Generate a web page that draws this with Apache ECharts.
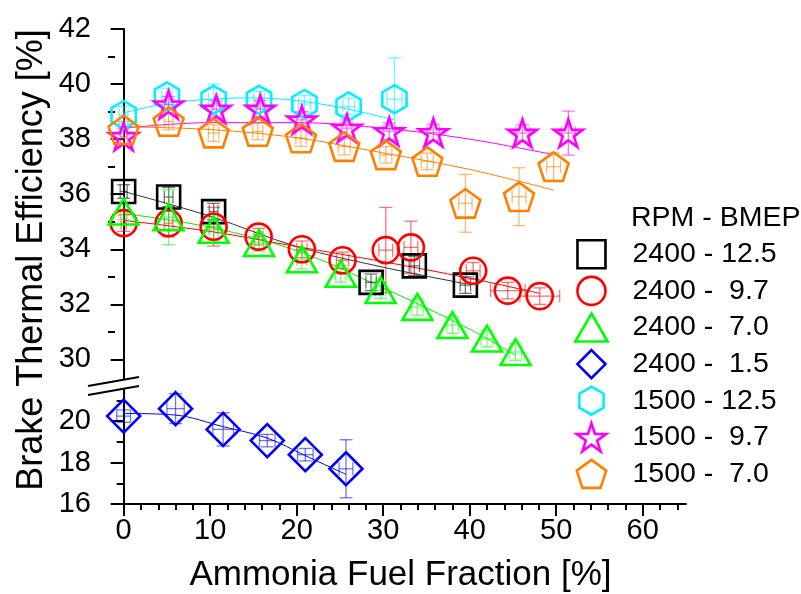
<!DOCTYPE html>
<html>
<head>
<meta charset="utf-8">
<title>Brake Thermal Efficiency</title>
<script src="https://cdn.jsdelivr.net/npm/echarts@6/dist/echarts.min.js"></script>
<style>
  html, body { margin: 0; padding: 0; background: #fff; }
  #chart { width: 801px; height: 594px; }
</style>
</head>
<body>
<div id="chart"></div>
<script>
// values
const xMajor = [0, 10, 20, 30, 40, 50, 60]
const xMinor = [2, 4, 6, 8, 12, 14, 16, 18, 22, 24, 26, 28, 32, 34, 36, 38, 42, 44, 46, 48, 52, 54, 56, 58, 62, 64]
const yUpperMajor = [30, 32, 34, 36, 38, 40, 42]
const yUpperMinor = [31, 33, 35, 37, 39, 41]
const yLowerMajor = [16, 18, 20]
const yLowerMinor = [17, 19, 21]

const names = ['2400 - 12.5', '2400 -  9.7', '2400 -  7.0', '2400 -  1.5', '1500 - 12.5', '1500 -  9.7', '1500 -  7.0']

// 2400 - 12.5
const bkX = [0, 5.2, 10.4, 28.6, 33.6, 39.5]
const bkY = [36.1, 35.9, 35.37, 32.8, 33.4, 32.7]
const bkYErr = [0.25, 0.35, 0.3, 0.3, 0.35, 0.3]
const bkXErr = [0.4, 0.5, 0.5, 0.6, 0.6, 0.6]
const bkFit = [[0, 36.1], [10, 35.2], [20, 34.1], [30, 33.35], [39.5, 32.75]]

// 2400 - 9.7
const rdX = [0, 5.2, 10.4, 15.6, 20.6, 25.3, 30.3, 33.2, 40.4, 44.4, 48.1]
const rdY = [34.95, 34.95, 34.82, 34.46, 34.0, 33.6, 33.97, 34.07, 33.22, 32.5, 32.3]
const rdYErr = [0.3, 0.5, 0.7, 0.3, 0.3, 0.3, 1.55, 0.95, 0.3, 0.3, 0.3]
const rdXErr = [0.3, 0.5, 0.5, 0.5, 0.6, 0.7, 0.8, 0.8, 0.8, 2.0, 2.3]
const rdFit = [[0, 35.05], [10, 34.65], [20, 34.1], [30, 33.55], [40, 32.95], [48.1, 32.4]]

// 2400 - 7.0
const grX = [0, 5.2, 10.4, 15.65, 20.6, 25.1, 29.7, 33.95, 38.0, 42.0, 45.3]
const grY = [35.37, 35.17, 34.71, 34.23, 33.64, 33.11, 32.52, 31.91, 31.25, 30.76, 30.27]
const grYErr = [0.3, 1.0, 0.4, 0.3, 0.35, 0.3, 0.3, 0.3, 0.3, 0.3, 0.3]
const grXErr = [0.4, 0.5, 0.5, 0.5, 0.6, 0.6, 0.6, 0.7, 0.7, 0.7, 0.7]
const grFit = [[0, 35.3], [10, 34.8], [20, 33.95], [30, 32.6], [40, 31.1], [45.3, 30.15]]

// 2400 - 1.5 (lower panel)
const blX = [0, 6.0, 11.5, 16.6, 21.0, 25.7]
const blY = [20.24, 20.6, 19.6, 19.06, 18.38, 17.7]
const blYErr = [0.3, 0.72, 0.8, 0.3, 0.3, 1.4]
const blXErr = [0.8, 1.0, 1.2, 0.9, 0.9, 0.8]
const blFit = [[0, 20.37], [6, 20.29], [11.5, 19.73], [16.6, 19.18], [21, 18.33], [25.7, 17.43]]

// 1500 - 12.5
const cyX = [0, 5.0, 10.4, 15.65, 20.9, 26.0, 31.3]
const cyY = [38.88, 39.55, 39.43, 39.43, 39.28, 39.19, 39.45]
const cyYErr = [0.3, 0.3, 0.57, 0.3, 0.3, 0.3, 1.5]
const cyXErr = [0.5, 0.6, 0.6, 0.6, 0.7, 0.7, 0.87]
const cyFit = [[0, 38.95], [5, 39.3], [10, 39.45], [15, 39.5], [20, 39.4], [25, 39.15], [31.3, 38.7]]

// 1500 - 9.7
const mgX = [0, 5.2, 10.7, 15.8, 20.6, 25.8, 30.7, 35.8, 46.1, 51.4]
const mgY = [38.1, 39.25, 39.09, 39.09, 38.7, 38.4, 38.28, 38.24, 38.22, 38.22]
const mgYErr = [0.3, 0.3, 0.3, 0.3, 0.3, 0.3, 0.3, 0.3, 0.3, 0.8]
const mgXErr = [0.4, 0.5, 0.5, 0.5, 0.6, 0.6, 0.7, 0.7, 0.8, 0.8]
const mgFit = [[0, 38.4], [10, 38.6], [20, 38.6], [30, 38.4], [40, 38.0], [49.5, 37.45]]

// 1500 - 7.0
const orX = [0, 5.2, 10.4, 15.5, 20.5, 25.5, 30.3, 35.1, 39.5, 45.7, 49.7]
const orY = [38.34, 38.64, 38.22, 38.28, 38.04, 37.73, 37.43, 37.19, 35.67, 35.91, 37.0]
const orYErr = [0.3, 0.3, 0.3, 0.3, 0.3, 0.3, 0.3, 0.3, 1.05, 1.05, 0.5]
const orXErr = [0.5, 0.5, 0.6, 0.6, 0.6, 0.7, 0.7, 0.7, 0.77, 0.8, 0.8]
const orFit = [[0, 38.45], [10, 38.35], [20, 38.05], [30, 37.5], [40, 36.9], [49.7, 36.15]]

const FONT = 'Liberation Sans, Arial, sans-serif'

// every marker as a path so that it keeps its aspect in the legend too
const square = 'path://M0,0 L100,0 L100,100 L0,100 Z'
const circle = 'path://M0,50 A50,50 0 1,1 100,50 A50,50 0 1,1 0,50 Z'
const triangle = 'path://M50,0 L100,86.6 L0,86.6 Z'
const diamond = 'path://M50,0 L100,50 L50,100 L0,50 Z'
const hexagon = 'path://M43.3,0 L86.6,25 L86.6,75 L43.3,100 L0,75 L0,25 Z'
const pentagon = 'path://M50,0 L97.55,34.55 L79.39,90.45 L20.61,90.45 L2.45,34.55 Z'
const star = 'path://M50,0 L61.23,34.55 L97.55,34.55 L68.17,55.9 L79.39,90.45 L50,69.1 L20.61,90.45 L31.83,55.9 L2.45,34.55 L38.77,34.55 Z'

const groups = [
  { name: names[0], x: bkX, y: bkY, ex: bkXErr, ey: bkYErr, fit: bkFit, color: '#000000', fitColor: '#333333', symbol: square, size: 23, lower: false },
  { name: names[1], x: rdX, y: rdY, ex: rdXErr, ey: rdYErr, fit: rdFit, color: '#ff0000', fitColor: '#ff0000', symbol: circle, size: 26, lower: false },
  { name: names[2], x: grX, y: grY, ex: grXErr, ey: grYErr, fit: grFit, color: '#00ff00', fitColor: '#00ee00', symbol: triangle, size: 30, lower: false },
  { name: names[3], x: blX, y: blY, ex: blXErr, ey: blYErr, fit: blFit, color: '#0000ff', fitColor: '#0000ff', symbol: diamond, size: 33, lower: true },
  { name: names[4], x: cyX, y: cyY, ex: cyXErr, ey: cyYErr, fit: cyFit, color: '#00f0ff', fitColor: '#00f0ff', symbol: hexagon, size: 28, lower: false },
  { name: names[5], x: mgX, y: mgY, ex: mgXErr, ey: mgYErr, fit: mgFit, color: '#ff00ff', fitColor: '#ff00ff', symbol: star, size: 29, lower: false },
  { name: names[6], x: orX, y: orY, ex: orXErr, ey: orYErr, fit: orFit, color: '#ff8000', fitColor: '#ff8000', symbol: pentagon, size: 30, lower: false }
]

function errorBars(color) {
  return function (params, api) {
    const x = api.value(0)
    const y = api.value(1)
    const ex = api.value(2)
    const ey = api.value(3)
    const top = api.coord([x, y + ey])
    const bot = api.coord([x, y - ey])
    const lft = api.coord([x - ex, y])
    const rgt = api.coord([x + ex, y])
    const cap = 6.5
    const style = { stroke: color, lineWidth: 1.3, opacity: 0.55 }
    const seg = (x1, y1, x2, y2) => ({ type: 'line', shape: { x1, y1, x2, y2 }, style })
    return {
      type: 'group',
      children: [
        seg(top[0], top[1], bot[0], bot[1]),
        seg(top[0] - cap, top[1], top[0] + cap, top[1]),
        seg(bot[0] - cap, bot[1], bot[0] + cap, bot[1]),
        seg(lft[0], lft[1], rgt[0], rgt[1]),
        seg(lft[0], lft[1] - cap, lft[0], lft[1] + cap),
        seg(rgt[0], rgt[1] - cap, rgt[0], rgt[1] + cap)
      ]
    }
  }
}

const series = []
groups.forEach((g) => {
  const xi = g.lower ? 1 : 0
  const yi = g.lower ? 2 : 0
  series.push({
    type: 'line',
    name: g.name + ' fit',
    xAxisIndex: xi,
    yAxisIndex: yi,
    data: g.fit,
    smooth: 0.35,
    showSymbol: false,
    silent: true,
    lineStyle: { color: g.fitColor, width: 1 },
    z: 2
  })
  series.push({
    type: 'custom',
    name: g.name + ' err',
    xAxisIndex: xi,
    yAxisIndex: yi,
    data: g.x.map((v, i) => [v, g.y[i], g.ex[i], g.ey[i]]),
    encode: { x: 0, y: 1 },
    renderItem: errorBars(g.color),
    silent: true,
    clip: false,
    z: 3
  })
  series.push({
    type: 'scatter',
    name: g.name,
    xAxisIndex: xi,
    yAxisIndex: yi,
    data: g.x.map((v, i) => [v, g.y[i]]),
    symbol: g.symbol,
    symbolSize: g.size,
    symbolKeepAspect: true,
    clip: false,
    itemStyle: { color: 'rgba(0,0,0,0)', borderColor: g.color, borderWidth: 2.6, opacity: 1 },
    z: 4
  })
})

const axisText = { color: '#000', fontFamily: FONT, fontSize: 29 }
const lineStyle = { color: '#000', width: 2 }

const chart = echarts.init(document.getElementById('chart'), null, { renderer: 'canvas' })
chart.setOption({
  backgroundColor: '#fff',
  animation: false,
  grid: [
    { left: 115, top: 29, width: 571, height: 358 },
    { left: 115, top: 390, width: 571, height: 115 }
  ],
  xAxis: [
    { type: 'value', gridIndex: 0, min: -1, max: 65, show: false },
    {
      type: 'value', gridIndex: 1, position: 'bottom', min: -1, max: 65,
      splitLine: { show: false },
      axisLine: { lineStyle },
      axisTick: { customValues: xMajor, length: 12, lineStyle },
      axisLabel: { customValues: xMajor, margin: 12, ...axisText },
      name: 'Ammonia Fuel Fraction [%]',
      nameLocation: 'middle',
      nameGap: 54,
      nameTextStyle: { color: '#000', fontFamily: FONT, fontSize: 35 }
    },
    {
      type: 'value', gridIndex: 1, position: 'bottom', min: -1, max: 65,
      splitLine: { show: false },
      axisLine: { show: false },
      axisTick: { customValues: xMinor, length: 6, lineStyle },
      axisLabel: { show: false }
    }
  ],
  yAxis: [
    {
      type: 'value', gridIndex: 0, position: 'left', min: 29, max: 42,
      splitLine: { show: false },
      axisLine: { show: true, lineStyle },
      axisTick: { customValues: yUpperMajor, length: 13, lineStyle },
      axisLabel: { customValues: yUpperMajor, margin: 24, ...axisText }
    },
    {
      type: 'value', gridIndex: 0, position: 'left', min: 29, max: 42,
      splitLine: { show: false },
      axisLine: { show: false },
      axisTick: { customValues: yUpperMinor, length: 7, lineStyle },
      axisLabel: { show: false }
    },
    {
      type: 'value', gridIndex: 1, position: 'left', min: 16, max: 21.5,
      splitLine: { show: false },
      axisLine: { show: true, lineStyle },
      axisTick: { customValues: yLowerMajor, length: 13, lineStyle },
      axisLabel: { customValues: yLowerMajor, margin: 24, ...axisText }
    },
    {
      type: 'value', gridIndex: 1, position: 'left', min: 16, max: 21.5,
      splitLine: { show: false },
      axisLine: { show: false },
      axisTick: { customValues: yLowerMinor, length: 7, lineStyle },
      axisLabel: { show: false }
    }
  ],
  legend: {
    data: names,
    orient: 'vertical',
    left: 574,
    top: 239,
    itemWidth: 72,
    itemHeight: 28,
    itemGap: 6,
    padding: 0,
    selectedMode: false,
    itemStyle: { borderWidth: 2.6 },
    textStyle: { color: '#000', fontFamily: FONT, fontSize: 28.5, lineHeight: 26 }
  },
  graphic: [
    {
      type: 'text', x: 32, y: 260, rotation: Math.PI / 2, z: 100,
      style: { text: 'Brake Thermal Efficiency [%]', fill: '#000', font: '36px ' + FONT, align: 'center', verticalAlign: 'middle' }
    },
    {
      type: 'text', x: 631, y: 218, z: 100,
      style: { text: 'RPM - BMEP', fill: '#000', font: '28.5px ' + FONT, align: 'left', verticalAlign: 'middle' }
    },
    {
      type: 'polygon', z: 100,
      shape: { points: [[104, 383.2], [126, 379.3], [126, 388.3], [104, 392.2]] },
      style: { fill: '#fff' }
    },
    {
      type: 'line', z: 101,
      shape: { x1: 88, y1: 386, x2: 139, y2: 377 },
      style: { stroke: '#000', lineWidth: 2 }
    },
    {
      type: 'line', z: 101,
      shape: { x1: 88, y1: 395, x2: 139, y2: 386 },
      style: { stroke: '#000', lineWidth: 2 }
    }
  ],
  series
})
</script>
</body>
</html>
